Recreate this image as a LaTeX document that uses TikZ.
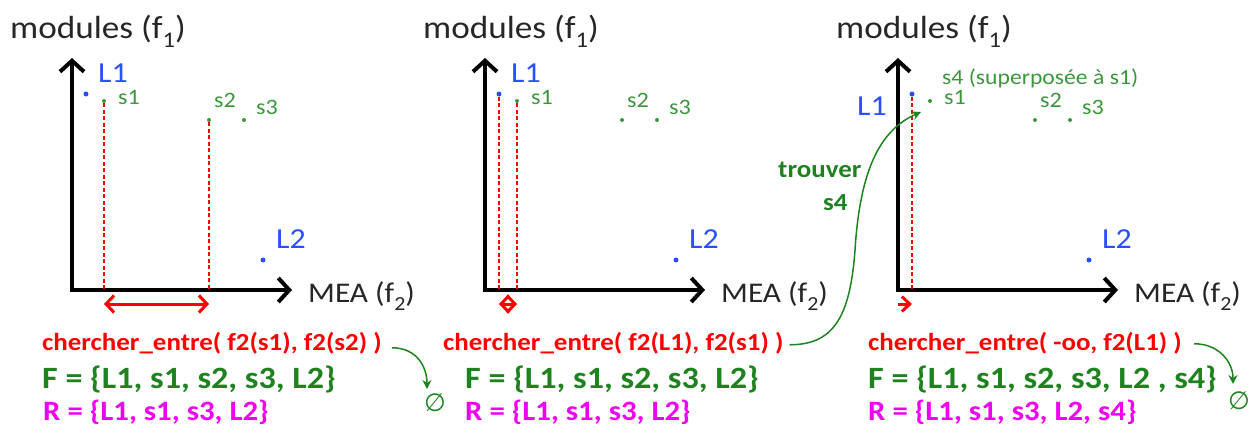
\documentclass[tikz,border=0pt]{standalone}
\usepackage{fontspec}
\setmainfont{Carlito}[FakeStretch=1.1]
\newfontfamily\djv{DejaVu Sans}
\usepackage{graphicx}
\usetikzlibrary{arrows.meta}
\definecolor{axgray}{RGB}{38,38,38}
\definecolor{ptblue}{RGB}{40,80,255}
\definecolor{ptgreen}{RGB}{60,150,60}
\definecolor{dkgreen}{RGB}{30,130,30}
\definecolor{myred}{RGB}{255,0,0}
\definecolor{mymag}{RGB}{240,0,240}
\newcommand\fs[1]{\fontsize{#1}{#1}\selectfont}
\newcommand\subone[1]{\raisebox{-0.3em}{\scalebox{0.7}{#1}}}
\newcommand\panel[2]{%
\begin{scope}[xshift=#2pt]
 \coordinate (o#1) at (0,290);
 \coordinate (yt#1) at (0,58);
 \coordinate (xt#1) at (220,290);
 \coordinate (ar#1) at (0,304);
 \draw[axis] (yt#1) -- (o#1) -- (xt#1);
 \node[axlab] (mod#1) at (-62,38) {modules (f\subone{1})};
 \node[axlab,font=\fs{28.5}] (mea#1) at (236,302) {MEA (f\subone{2})};
 \node[dotb] (L1d#1) at (14,94) {};
 \node[dotg] (s1d#1) at (32,101) {};
 \node[dotg] (s2d#1) at (137,120) {};
 \node[dotg] (s3d#1) at (172,120) {};
 \node[dotb] (L2d#1) at (191,260) {};
 \node[ptlab] (s1l#1) at (46,104) {s1};
 \node[ptlab] (s2l#1) at (142,107) {s2};
 \node[ptlab] (s3l#1) at (184,114) {s3};
 \node[blab] (L2l#1) at (204,248) {L2};
\end{scope}}
\begin{document}
\begin{tikzpicture}[x=1pt,y=-1pt,
 axis/.style={line width=4pt, black, line join=miter,
   arrows={Straight Barb[length=11pt,width=24pt]-Straight Barb[length=11pt,width=24pt]}},
 axlab/.style={anchor=base west, inner sep=0pt, text=axgray, font=\fs{32}},
 dotb/.style={circle, fill=ptblue, inner sep=0pt, minimum size=5pt},
 dotg/.style={circle, fill=ptgreen, inner sep=0pt, minimum size=4pt},
 ptlab/.style={anchor=base west, inner sep=0pt, text=ptgreen, font=\fs{22}},
 blab/.style={anchor=base west, inner sep=0pt, text=ptblue, font=\fs{29}},
 reddash/.style={draw=myred, line width=1.4pt, dash pattern=on 4pt off 2.5pt},
 redarr/.style={draw=myred, line width=3pt,
   arrows={Straight Barb[length=8pt,width=17pt]-Straight Barb[length=8pt,width=17pt]}},
 redarrr/.style={draw=myred, line width=3pt, arrows={-Straight Barb[length=8pt,width=15pt]}},
 call/.style={anchor=base west, inner sep=0pt, text=myred, font=\bfseries\fs{24.5}},
 fset/.style={anchor=base west, inner sep=0pt, text=dkgreen, font=\bfseries\fs{31}},
 rset/.style={anchor=base west, inner sep=0pt, text=mymag, font=\bfseries\fs{28}},
 glab/.style={anchor=base west, inner sep=0pt, text=dkgreen, font=\bfseries\fs{24.5}},
 empty/.style={inner sep=0pt, text=dkgreen, font=\djv\fs{25}},
 garr/.style={draw=dkgreen, line width=1.5pt, arrows={-Stealth[length=9pt,width=9pt]}}
]
\useasboundingbox (0,0) rectangle (1251,432);

\panel{1}{72}
\panel{2}{485}
\panel{3}{898}

% L1 labels
\node[blab] (L1l1) at (98,82) {L1};
\node[blab] (L1l2) at (511,82) {L1};
\node[blab] (L1l3) at (857,115) {L1};
\node[ptlab,font=\fs{21.5}] (s4l) at (942,84) {s4 (superposée à s1)};

% dashed projections
\draw[reddash] (s1d1.south) -- (s1d1 |- o1);
\draw[reddash] (s2d1.south) -- (s2d1 |- o1);
\draw[reddash] (L1d2.south) -- (L1d2 |- o2);
\draw[reddash] (s1d2.south) -- (s1d2 |- o2);
\draw[reddash] (L1d3.south) -- (L1d3 |- o3);

% search intervals
\draw[redarr] (s1d1 |- ar1) -- (s2d1 |- ar1);
\draw[redarr] (L1d2 |- ar2) -- (s1d2 |- ar2);
\draw[redarrr] (o3 |- ar3) -- (L1d3 |- ar3);

% texts
\node[call] (c1) at (42,350) {chercher\_entre( f2(s1), f2(s2) )};
\node[fset] (f1) at (42,388) {F = \{L1, s1, s2, s3, L2\}};
\node[rset] (r1) at (43,420) {R = \{L1, s1, s3, L2\}};

\node[call] (c2) at (443,350) {chercher\_entre( f2(L1), f2(s1) )};
\node[fset] (f2) at (465,388) {F = \{L1, s1, s2, s3, L2\}};
\node[rset] (r2) at (465,420) {R = \{L1, s1, s3, L2\}};

\node[call] (c3) at (868,350) {chercher\_entre( -oo, f2(L1) )};
\node[fset] (f3) at (868,388) {F = \{L1, s1, s2, s3, L2 , s4\}};
\node[rset] (r3) at (868,420) {R = \{L1, s1, s3, L2, s4\}};

% empty results
\node[empty] (e1) at (435,403) {∅};
\node[empty] (e3) at (1239,401) {∅};
\coordinate (t1) at (427,389);
\coordinate (t3) at (1233,384);
\draw[garr] ([xshift=10pt,yshift=-5pt]c1.east) .. controls +(25,0) and +(0,-22) .. (t1);
\draw[garr] ([xshift=12pt,yshift=-1pt]c3.east) .. controls +(25,0) and +(0,-22) .. (t3);

% find s4
\node[glab] (tr) at (778,177) {trouver};
\node[glab] (s4t) at (823,210) {s4};
\coordinate (tip4) at (921,112);
\coordinate (m4) at (855,250);
\draw[garr] ([xshift=6pt,yshift=-2pt]c2.east) .. controls +(42,0) and (850,320) .. (m4)
  .. controls (860,170) and (880,130) .. (tip4);
\end{tikzpicture}
\end{document}
